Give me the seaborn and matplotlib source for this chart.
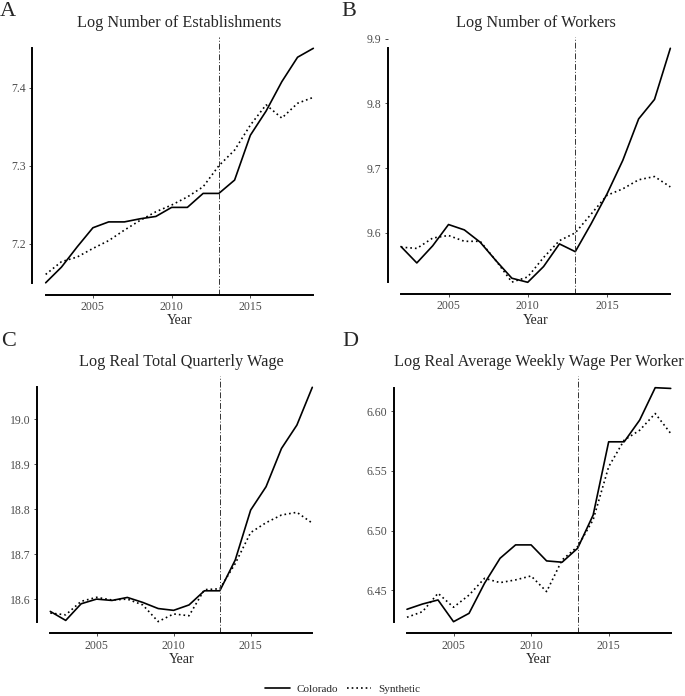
import numpy as np
import pandas as pd
import seaborn as sns
import matplotlib.pyplot as plt
from matplotlib.lines import Line2D

years = list(range(2002, 2020))

estab_colorado = [7.150, 7.170, 7.196, 7.2205, 7.228, 7.228, 7.232, 7.235, 7.2466,
                  7.2466, 7.2645, 7.2645, 7.2816, 7.339, 7.370, 7.4077, 7.439, 7.4504]
estab_synthetic = [7.1607, 7.177, 7.183, 7.194, 7.204, 7.2175, 7.230, 7.241, 7.2496,
                   7.260, 7.273, 7.300, 7.320, 7.352, 7.378, 7.361, 7.380, 7.3876]

workers_colorado = [9.5789, 9.5536, 9.580, 9.6129, 9.6046, 9.5856, 9.557, 9.530, 9.5237,
                    9.548, 9.583, 9.571, 9.614, 9.660, 9.712, 9.776, 9.806, 9.885]
workers_synthetic = [9.578, 9.576, 9.592, 9.596, 9.587, 9.587, 9.557, 9.524, 9.532,
                     9.562, 9.588, 9.600, 9.629, 9.658, 9.668, 9.682, 9.687, 9.671]

total_colorado = [18.5726, 18.5526, 18.5896, 18.600, 18.597, 18.6037, 18.5926, 18.579, 18.575,
                  18.587, 18.6185, 18.6185, 18.687, 18.798, 18.850, 18.935, 18.987, 19.071]
total_synthetic = [18.569, 18.565, 18.595, 18.604, 18.598, 18.600, 18.587, 18.550, 18.567,
                   18.563, 18.621, 18.623, 18.679, 18.748, 18.770, 18.787, 18.793, 18.769]

weekly_colorado = [6.4341, 6.4385, 6.4419, 6.4237, 6.4307, 6.4559, 6.4768, 6.488, 6.488,
                   6.4746, 6.4735, 6.4852, 6.513, 6.5743, 6.5743, 6.5925, 6.6196, 6.619]
weekly_synthetic = [6.4274, 6.4321, 6.4475, 6.4358, 6.446, 6.460, 6.4564, 6.4587, 6.462,
                    6.4489, 6.4754, 6.4866, 6.509, 6.5534, 6.5757, 6.584, 6.598, 6.5813]

panels = [
    ("A", "Log Number of Establishments", estab_colorado, estab_synthetic, [7.2, 7.3, 7.4], "{:.1f}"),
    ("B", "Log Number of Workers", workers_colorado, workers_synthetic, [9.6, 9.7, 9.8, 9.9], "{:.1f}"),
    ("C", "Log Real Total Quarterly Wage", total_colorado, total_synthetic, [18.6, 18.7, 18.8, 18.9, 19.0], "{:.1f}"),
    ("D", "Log Real Average Weekly Wage Per Worker", weekly_colorado, weekly_synthetic, [6.45, 6.50, 6.55, 6.60], "{:.2f}"),
]
treat_year = 2013

sns.set_style("white")
plt.rcParams['font.family'] = ['Liberation Serif', 'DejaVu Serif']

W, H = 685, 696
fig = plt.figure(figsize=(W / 100, H / 100), dpi=100)

# axes boxes in pixels: left, top, right, bottom
boxes = [(32.3, 36.6, 326.7, 294.5),
         (387.5, 36.6, 683.8, 294.0),
         (37.2, 375.6, 325.4, 633.3),
         (393.8, 376.0, 683.9, 633.4)]
# panel letter positions in pixels (left, top)
letter_pos = [(0, 2), (341, 2), (1, 332), (342, 332)]
dot = (1, 1.8)

for (letter, title, col, syn, ticks, fmt), (l, t, r, b), (lx, ly) in zip(panels, boxes, letter_pos):
    ax = fig.add_axes([l / W, 1 - b / H, (r - l) / W, (b - t) / H])
    df = pd.DataFrame({"Year": years * 2, "value": col + syn,
                       "Series": ["Colorado"] * len(years) + ["Synthetic"] * len(years)})
    sns.lineplot(data=df, x="Year", y="value", style="Series",
                 dashes={"Colorado": "", "Synthetic": dot},
                 color="black", linewidth=1.2, legend=False, ax=ax)
    ax.axvline(treat_year, color="#333333", linewidth=0.7, linestyle=(0, (6, 2, 1, 2)))

    vals = col + syn
    lo, hi = min(vals), max(vals)
    pad = 0.05 * (hi - lo)
    ax.set_ylim(lo - pad, hi + pad)
    ax.set_xlim(years[0] - 0.85, years[-1] + 0.85)

    sns.despine(ax=ax)
    ax.spines['left'].set_bounds(lo, hi)
    ax.spines['bottom'].set_bounds(years[0], years[-1])
    for s in ['left', 'bottom']:
        ax.spines[s].set_linewidth(1.4)
        ax.spines[s].set_color("black")

    ax.set_xticks([2005, 2010, 2015])
    ax.set_xticklabels(["2005", "2010", "2015"])
    ax.set_yticks(ticks)
    ax.set_yticklabels([fmt.format(v) for v in ticks])
    ax.tick_params(axis='both', labelsize=8.5, labelcolor="#4d4d4d", color="#4d4d4d",
                   length=2.5, width=0.7, pad=2, left=True, bottom=True)
    ax.set_xlabel("Year", fontsize=10, labelpad=1)
    ax.set_ylabel("")
    ax.set_title(title, fontsize=11.7, pad=7)
    fig.text(lx / W, 1 - ly / H, letter, fontsize=16, va="top", ha="left")

handles = [Line2D([], [], color="black", linewidth=1.2),
           Line2D([], [], color="black", linewidth=1.2, linestyle=(0, dot))]
fig.legend(handles, ["Colorado", "Synthetic"], loc="center", bbox_to_anchor=(0.5, 1 - 689 / H),
           ncol=2, frameon=False, fontsize=8, handlelength=2.2, columnspacing=0.8,
           handletextpad=0.6)

fig.savefig("out.png", dpi=100)
